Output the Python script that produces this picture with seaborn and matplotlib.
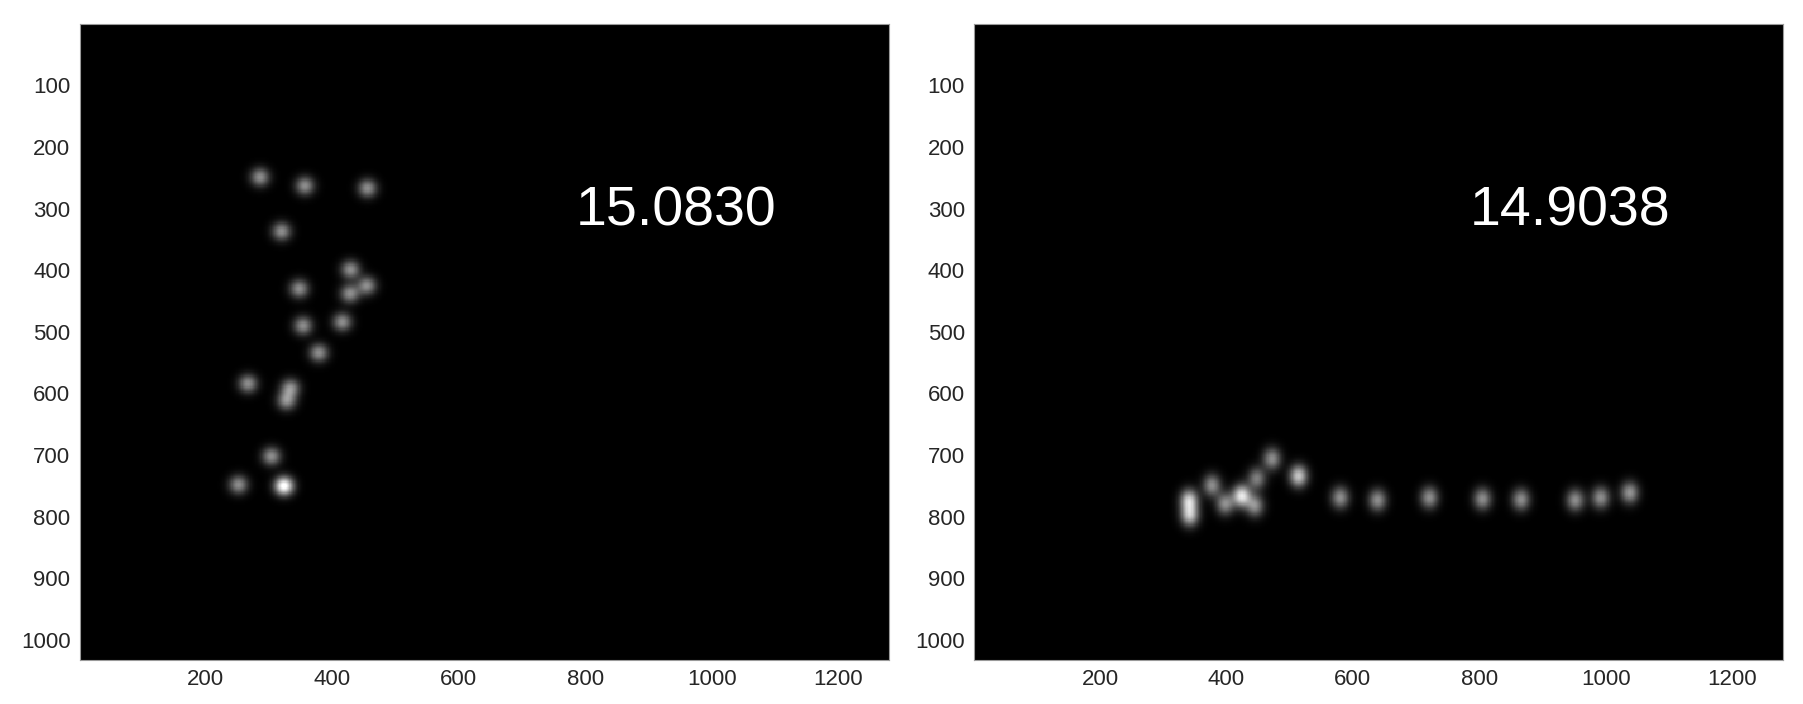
import numpy as np
import matplotlib
matplotlib.use('Agg')
import matplotlib.pyplot as plt
import seaborn as sns

sns.set_theme(style='white')
plt.rcParams['font.family'] = ['Liberation Sans', 'DejaVu Sans']

# 图像尺寸（像素）
img_w, img_h = 1280, 1032

# 左图光斑位置 (x, y) 与强度
left_x = [286, 357, 456, 320, 429, 455, 428, 348, 354, 416, 379, 267, 334, 328, 304, 252, 324]
left_y = [249, 263, 267, 337, 399, 425, 438, 430, 490, 484, 534, 584, 591, 612, 702, 748, 750]
left_w = [1, 1, 1, 1, 1, 1, 1, 1, 1, 1, 1, 1, 1, 1, 1, 1, 1.9]
left_label = '15.0830'

# 右图光斑位置 (x, y) 与强度
right_x = [341, 342, 377, 424, 398, 445, 448, 472, 514, 580, 639, 721, 805, 866, 952, 992, 1038]
right_y = [773, 798, 749, 766, 779, 782, 738, 706, 734, 769, 773, 769, 771, 772, 773, 769, 761]
right_w = [1.4, 1.3, 1, 1.6, 1, 1, 0.9, 1, 1.4, 1, 1, 1, 1, 1, 1, 1, 1.05]
right_label = '14.9038'

x_ticks = [200, 400, 600, 800, 1000, 1200]
y_ticks = [100, 200, 300, 400, 500, 600, 700, 800, 900, 1000]

step = 2
gx = np.arange(0.5 + step / 2, img_w + 0.5, step)
gy = np.arange(0.5 + step / 2, img_h + 0.5, step)
GX, GY = np.meshgrid(gx, gy)


def make_image(xs, ys, ws, sx, sy, amp=0.55):
    img = np.zeros_like(GX)
    for x, y, w in zip(xs, ys, ws):
        img += w * amp * np.exp(-((GX - x) ** 2 / (2 * sx ** 2) + (GY - y) ** 2 / (2 * sy ** 2)))
    return np.clip(img, 0, 1)


def to_h(v):
    return (v - 0.5) / step


fig = plt.figure(figsize=(18.03, 7.04), dpi=100)
ax1 = fig.add_axes([79.5 / 1803, 44 / 704, 809.5 / 1803, 636 / 704])
ax2 = fig.add_axes([974 / 1803, 44 / 704, 809 / 1803, 636 / 704])

panels = [
    (ax1, make_image(left_x, left_y, left_w, 10.5, 10.5), left_label),
    (ax2, make_image(right_x, right_y, right_w, 10, 12.5), right_label),
]

for ax, img, label in panels:
    sns.heatmap(img, cmap='gray', vmin=0, vmax=1, cbar=False, ax=ax,
                xticklabels=False, yticklabels=False, rasterized=True)
    ax.set_xlim(0, img.shape[1])
    ax.set_ylim(img.shape[0], 0)
    ax.set_xticks([to_h(t) for t in x_ticks])
    ax.set_xticklabels([str(t) for t in x_ticks])
    ax.set_yticks([to_h(t) for t in y_ticks])
    ax.set_yticklabels([str(t) for t in y_ticks], rotation=0)
    ax.tick_params(axis='both', direction='in', length=5, color='black',
                   labelsize=16, labelcolor='#262626', pad=6.5)
    for s in ax.spines.values():
        s.set_visible(True)
        s.set_color('#9a9a9a')
        s.set_linewidth(0.8)
    ax.text(to_h(785), to_h(327), label, color='white', fontsize=40,
            ha='left', va='baseline')

fig.savefig('out.png', dpi=100, facecolor='white')
